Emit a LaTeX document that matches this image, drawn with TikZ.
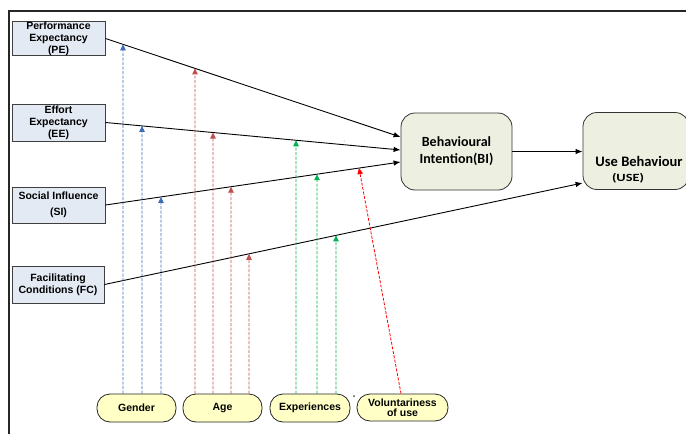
\documentclass[tikz,border=0pt]{standalone}
\usepackage{fontspec}
\usepackage{graphicx}
\setmainfont{Liberation Sans}
\newfontfamily\calib{Carlito}
\usetikzlibrary{arrows.meta,calc}
\definecolor{boxfill}{HTML}{E4EAF4}
\definecolor{boxdraw}{HTML}{3F3F3F}
\definecolor{bifill}{HTML}{EDF0E0}
\definecolor{ovfill}{HTML}{FFFFC6}
\definecolor{dblue}{HTML}{3D6DB5}
\definecolor{dred}{HTML}{C0504D}
\definecolor{dgreen}{HTML}{00B050}
\definecolor{bred}{HTML}{FF0000}
\begin{document}
\begin{tikzpicture}[x=1pt,y=-1pt,
  cbox/.style={draw=boxdraw, fill=boxfill, line width=1pt, inner sep=0pt, align=center,
    font=\fontsize{10.5}{12}\selectfont\bfseries},
  rbox/.style={draw=black!80, fill=bifill, line width=0.8pt, rounded corners=14pt, inner sep=0pt,
    align=center, font=\calib\fontsize{14}{17}\selectfont\bfseries},
  oval/.style={draw=black!85, fill=ovfill, line width=0.8pt, rounded corners=13pt,
    minimum height=28pt, inner sep=0pt, align=center, font=\fontsize{10.5}{10.5}\selectfont\bfseries},
  main/.style={line width=0.9pt, -{Latex[length=7pt,width=5.5pt]}},
  mod/.style={dash pattern=on 3pt off 1.5pt, line width=0.8pt, -{Triangle[length=6pt,width=5.5pt]}},
  usetxt/.style={inner sep=0pt, font=\calib\bfseries},
]
\useasboundingbox (0,0) rectangle (686,434);
\fill[white] (0,0) rectangle (686,434);
% frame
\draw[line width=2pt, black!85] (9,434) -- (9,11) -- (686,11);

% left constructs
\node[cbox, minimum width=93pt, minimum height=33pt] (pe) at (58.5,38.5) {Performance\\Expectancy\\(PE)};
\node[cbox, minimum width=93pt, minimum height=37pt] (ee) at (58.5,122.5) {Effort\\Expectancy\\(EE)};
\node[cbox, minimum width=93pt, minimum height=36pt] (si) at (58.5,205) {Social Influence\\[4pt](SI)};
\node[cbox, minimum width=92pt, minimum height=37pt] (fc) at (58,284.5) {Facilitating\\Conditions (FC)};

% outcomes
\node[rbox, minimum width=111pt, minimum height=77pt] (bi) at (456.5,151.5) {Behavioural\\Intention(BI)};
\node[rbox, minimum width=106pt, minimum height=77pt] (use) at (636,151) {};
\node[usetxt, font=\calib\bfseries\fontsize{14.5}{14.5}\selectfont] (uset1) at (639,161) {Use Behaviour};
\node[usetxt, font=\calib\bfseries\fontsize{11}{11}\selectfont] (uset2) at (628,178) {\scalebox{1.3}[1]{(USE)}};

% moderators
\node[oval, minimum width=79pt] (gender) at (136.5,408) {Gender};
\node[oval, minimum width=79pt] (age) at (222.5,408) {Age};
\node[oval, minimum width=80pt] (exp) at (310,408) {Experiences};
\node[oval, minimum width=91pt, minimum height=27pt] (vol) at (402.5,407.5) {Voluntariness\\of use};

% small stray dots
\fill[black!70] (354,396) circle (1pt);
\fill[black!50] (344,141) circle (0.5pt);

% end points on the constructs
\coordinate (bi1) at ($(bi.west)+(0,-14.5)$);
\coordinate (bi2) at ($(bi.west)+(0,-1.5)$);
\coordinate (bi3) at ($(bi.west)+(0,10.5)$);
\coordinate (use1) at ($(use.west)+(0,32)$);

% main paths
\draw[main] (pe.east) -- (bi1);
\draw[main] (ee.east) -- (bi2);
\draw[main] (si.east) -- (bi3);
\draw[main] (fc.east) -- (use1);
\draw[main] (bi.east) -- (bi.east -| use.west);

% gender (blue)
\coordinate (g1) at (123,0 |- gender.north);
\coordinate (g2) at (142,0 |- gender.north);
\coordinate (g3) at (161,0 |- gender.north);
\draw[mod, dblue] (g1) -- (intersection of pe.east--bi1 and g1--123,0);
\draw[mod, dblue] (g2) -- (intersection of ee.east--bi2 and g2--142,0);
\draw[mod, dblue] (g3) -- (intersection of si.east--bi3 and g3--161,0);

% age (red-brown)
\coordinate (a1) at (195,0 |- age.north);
\coordinate (a2) at (213,0 |- age.north);
\coordinate (a3) at (231,0 |- age.north);
\coordinate (a4) at (249,0 |- age.north);
\draw[mod, dred] (a1) -- (intersection of pe.east--bi1 and a1--195,0);
\draw[mod, dred] (a2) -- (intersection of ee.east--bi2 and a2--213,0);
\draw[mod, dred] (a3) -- (intersection of si.east--bi3 and a3--231,0);
\draw[mod, dred] (a4) -- (intersection of fc.east--use1 and a4--249,0);

% experience (green)
\coordinate (e1) at (296,0 |- exp.north);
\coordinate (e2) at (317,0 |- exp.north);
\coordinate (e3) at (336,0 |- exp.north);
\draw[mod, dgreen] (e1) -- (intersection of ee.east--bi2 and e1--296,0);
\draw[mod, dgreen] (e2) -- (intersection of si.east--bi3 and e2--317,0);
\draw[mod, dgreen] (e3) -- (intersection of fc.east--use1 and e3--336,0);

% voluntariness (red)
\coordinate (v1) at (401,0 |- vol.north);
\draw[mod, bred] (v1) -- (intersection of si.east--bi3 and v1--359,168);
\end{tikzpicture}
\end{document}
